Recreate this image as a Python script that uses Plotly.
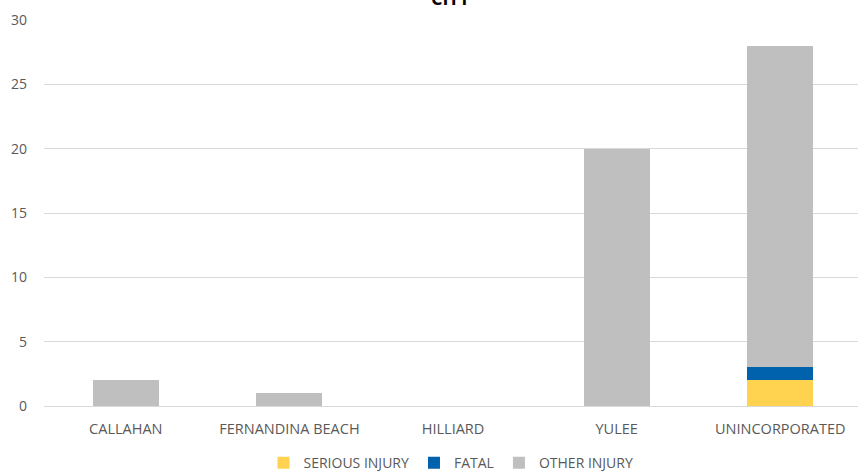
import plotly.graph_objects as go

categories = ["CALLAHAN", "FERNANDINA BEACH", "HILLIARD", "YULEE", "UNINCORPORATED"]
serious_injury = [0, 0, 0, 0, 2]
fatal = [0, 0, 0, 0, 1]
other_injury = [2, 1, 0, 20, 25]
y_ticks = [0, 5, 10, 15, 20, 25, 30]

FONT = "Open Sans"
fig = go.Figure()
fig.add_trace(go.Bar(name="SERIOUS INJURY", x=categories, y=serious_injury,
                     marker=dict(color="#FFD34F", line=dict(width=0)), width=0.403))
fig.add_trace(go.Bar(name="FATAL", x=categories, y=fatal,
                     marker=dict(color="#0062AC", line=dict(width=0)), width=0.403))
fig.add_trace(go.Bar(name="OTHER INJURY", x=categories, y=other_injury,
                     marker=dict(color="#BFBFBF", line=dict(width=0)), width=0.403))

fig.update_layout(
    barmode="stack",
    width=858, height=474,
    margin=dict(l=44, r=0, t=20, b=68, autoexpand=False),
    paper_bgcolor="white", plot_bgcolor="white",
    font=dict(family=FONT, size=13, color="#595959"),
    showlegend=True,
    legend=dict(orientation="h", x=0.5, xanchor="center", y=-0.148, yanchor="middle",
                font=dict(size=14, color="#595959"), traceorder="normal",
                itemwidth=30, tracegroupgap=0),
    annotations=[dict(text="<b>CITY</b>", x=0.5, xref="paper", y=1.0557, yref="paper",
                      xanchor="center", yanchor="middle", showarrow=False,
                      font=dict(size=18, color="#000000", family=FONT))],
)
fig.update_xaxes(type="category", range=[-0.5, 4.475], showgrid=False, showline=False,
                 ticks="", tickfont=dict(size=14.5, color="#595959"), zeroline=False,
                 ticklabelstandoff=12, automargin=False)
fig.update_yaxes(range=[0, 30], tickvals=y_ticks, showgrid=True, gridcolor="#D9D9D9",
                 gridwidth=1, zeroline=True, zerolinecolor="#D9D9D9", zerolinewidth=1,
                 showline=False, ticks="", ticklabelstandoff=16, automargin=False,
                 tickfont=dict(size=14, color="#595959"))

fig.write_html("out.html", config={"displayModeBar": False},
               post_script="document.body.style.margin='0';document.body.style.overflow='hidden';")
